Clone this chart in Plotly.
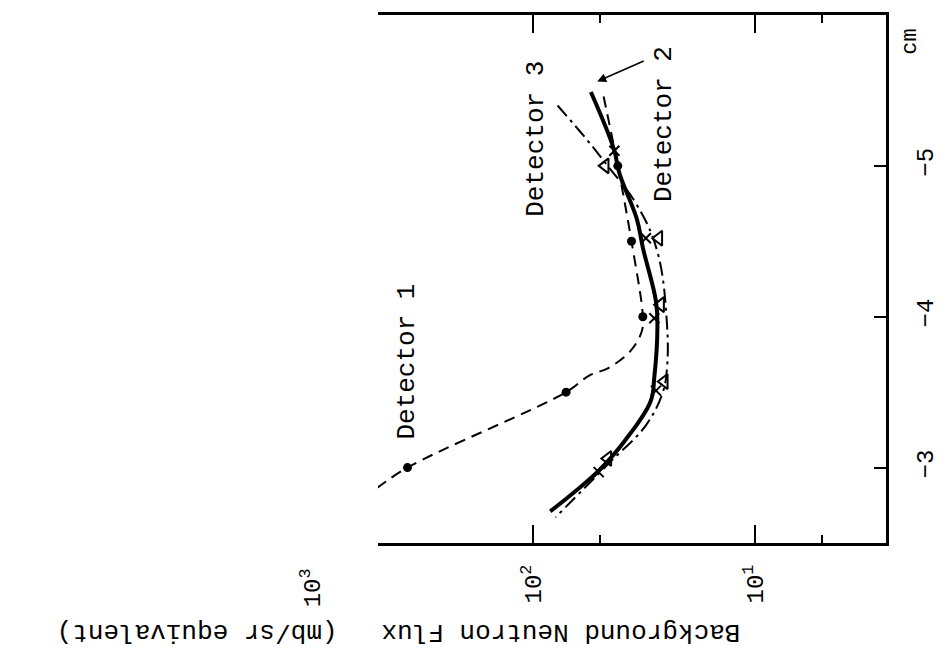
import math
import plotly.graph_objects as go

# Detector 1: dashed curve with filled dots
det1_curve_cm = [-5.46, -5.0, -4.5, -4.0, -3.9, -3.77, -3.66, -3.61, -3.5, -3.0, -2.85]
det1_curve_flux = [48.1, 41.5, 36.0, 32.0, 32.4, 36.5, 45.8, 55.9, 71.0, 369.0, 521.0]
det1_pts_cm = [-5.0, -4.5, -4.0, -3.5, -3.0]
det1_pts_flux = [41.5, 36.0, 32.0, 71.0, 369.0]

# Detector 2: heavy solid curve with crosses
det2_curve_cm = [-5.49, -5.11, -4.95, -4.65, -4.45, -4.10, -3.93, -3.60, -3.44, -3.18, -2.98, -2.71]
det2_curve_flux = [54.9, 43.2, 40.8, 34.1, 31.9, 27.9, 27.5, 28.4, 29.5, 38.5, 50.6, 83.7]
det2_pts_cm = [-5.1, -4.52, -3.99, -3.51, -2.97]
det2_pts_flux = [43.0, 31.0, 28.4, 27.9, 50.6]

# Detector 3: dash-dot curve with open triangles
det3_curve_cm = [-5.40, -5.18, -5.01, -4.74, -4.43, -3.95, -3.66, -3.50, -3.28, -3.03, -2.67]
det3_curve_flux = [77.6, 57.7, 46.7, 34.0, 27.5, 24.9, 24.9, 26.0, 31.0, 45.4, 79.3]
det3_pts_cm = [-5.0, -4.52, -4.08, -3.57, -3.06]
det3_pts_flux = [47.3, 27.1, 26.6, 25.6, 46.0]

flux_ticks = [100, 10]
flux_ticktext = ["10<sup>2</sup>", "10<sup>1</sup>"]
flux_minor = [50, 5]
flux_outer_label = 1000          # decade label just beyond the framed range
cm_ticks = [-3, -4, -5]
cm_ticktext = ["\u22123", "\u22124", "\u22125"]

W, H = 952, 656
L, R, T, B = 378, 912, 13, 543
X_RANGE = [2.70, 0.408]          # log10 flux, decreasing to the right
FONT = "Liberation Mono"


def px(x):
    return (x - L) / (R - L)


def py(y):
    return (B - y) / (B - T)


def flux_to_paper(v):
    return (X_RANGE[0] - math.log10(v)) / (X_RANGE[0] - X_RANGE[1])


fig = go.Figure()

fig.add_trace(go.Scatter(x=det1_curve_flux, y=det1_curve_cm, mode="lines",
                         line=dict(color="black", width=2, dash="11px,7px", shape="spline"),
                         hoverinfo="skip"))
fig.add_trace(go.Scatter(x=det1_pts_flux, y=det1_pts_cm, mode="markers",
                         marker=dict(symbol="circle", size=9, color="black")))

fig.add_trace(go.Scatter(x=det2_curve_flux, y=det2_curve_cm, mode="lines",
                         line=dict(color="black", width=4, shape="spline", smoothing=1.1),
                         hoverinfo="skip"))
fig.add_trace(go.Scatter(x=det2_pts_flux, y=det2_pts_cm, mode="markers",
                         marker=dict(symbol="x-thin-open", size=10, color="black",
                                     line=dict(width=2, color="black"))))

fig.add_trace(go.Scatter(x=det3_curve_flux, y=det3_curve_cm, mode="lines",
                         line=dict(color="black", width=2, dash="14px,5px,3px,5px",
                                   shape="spline", smoothing=1.1),
                         hoverinfo="skip"))
fig.add_trace(go.Scatter(x=det3_pts_flux, y=det3_pts_cm, mode="markers",
                         marker=dict(symbol="triangle-left-open", size=13, color="black",
                                     line=dict(width=2, color="black"))))

fig.update_xaxes(
    type="log", range=X_RANGE,
    tickvals=flux_ticks, ticktext=flux_ticktext, tickangle=-90,
    tickfont=dict(family=FONT, size=24, color="black"),
    ticks="inside", ticklen=18, tickwidth=2, tickcolor="black",
    minor=dict(tickvals=flux_minor, ticks="inside", ticklen=8, tickwidth=2, tickcolor="black"),
    showline=True, linewidth=3, linecolor="black", mirror="ticks",
    showgrid=False, zeroline=False, ticklabelstandoff=9,
)
fig.update_yaxes(
    range=[-2.5, -6.0], side="right",
    tickvals=cm_ticks, ticktext=cm_ticktext, tickangle=-90,
    tickfont=dict(family=FONT, size=24, color="black"),
    ticks="inside", ticklen=12, tickwidth=2, tickcolor="black",
    showline=True, linewidth=3, linecolor="black", mirror=False,
    showgrid=False, zeroline=False, ticklabelstandoff=15,
)

txt = dict(showarrow=False, xanchor="center", yanchor="middle")
annotations = [
    dict(text="10<sup>3</sup>", x=flux_to_paper(flux_outer_label), y=py(588),
         xref="paper", yref="paper", textangle=-90,
         font=dict(family=FONT, size=24, color="black"), **txt),
    dict(text="Detector 1", x=2.571, y=-3.70, xref="x", yref="y", textangle=-90,
         font=dict(family=FONT, size=26, color="black"), **txt),
    dict(text="Detector 3", x=1.987, y=-5.18, xref="x", yref="y", textangle=-90,
         font=dict(family=FONT, size=26, color="black"), **txt),
    dict(text="Detector 2", x=1.412, y=-5.28, xref="x", yref="y", textangle=-90,
         font=dict(family=FONT, size=26, color="black"), **txt),
    dict(text="", x=1.711, y=-5.56, xref="x", yref="y", ax=48, ay=-21,
         showarrow=True, arrowhead=2, arrowsize=1.2, arrowwidth=1.5, arrowcolor="black"),
    dict(text="cm", x=px(938), y=py(40), xref="paper", yref="paper", textangle=-90,
         font=dict(family=FONT, size=22, color="black"), **txt),
    dict(text="Background Neutron Flux", x=px(570), y=py(633), xref="paper", yref="paper",
         textangle=180, font=dict(family=FONT, size=26, color="black"), **txt),
    dict(text="(mb/sr equivalent)", x=px(188), y=py(633), xref="paper", yref="paper",
         textangle=180, font=dict(family=FONT, size=26, color="black"), **txt),
]

fig.update_layout(
    width=W, height=H,
    margin=dict(l=L, r=W - R, t=T, b=H - B),
    paper_bgcolor="white", plot_bgcolor="white",
    showlegend=False,
    annotations=annotations,
)

fig.write_html("out.html")
